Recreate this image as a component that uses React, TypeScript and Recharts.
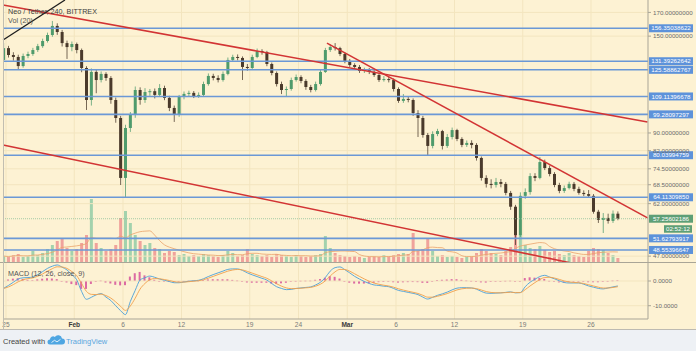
import React from 'react';
import { ComposedChart, Bar, Line, XAxis, YAxis, ReferenceLine } from 'recharts';

const FONT = '"Liberation Sans", Arial, Helvetica, sans-serif';

// ---------- data (12h candles, NEO/USDT) ----------
const firstOpen = 132.3;
const closes = [
  140.8, 135.8, 134.4, 128.1, 135.1, 136.5, 139.4, 142.3, 146.2, 150.9,
  158.3, 153.3, 144.6, 141.6, 143.9, 139.4, 126.8, 107.1, 124.2, 119.0,
  122.9, 120.3, 107.1, 97.4, 71.0, 92.4, 98.95, 112.9, 107.1, 111.7,
  112.2, 110.0, 114.1, 108.3, 102.7, 98.95, 108.85, 110.6, 111.2, 109.4,
  110.0, 116.5, 121.6, 120.3, 119.0, 122.9, 132.3, 134.4, 133.7, 127.5,
  126.8, 134.4, 138.7, 137.9, 129.5, 123.5, 116.5, 112.9, 113.5, 119.0,
  120.9, 118.4, 114.7, 112.9, 116.5, 124.2, 139.4, 141.6, 140.8, 136.5,
  131.6, 128.8, 127.5, 124.8, 125.5, 124.2, 122.2, 119.0, 119.6, 119.0,
  113.5, 106.6, 107.7, 107.1, 100.0, 97.4, 89.05, 84.05, 89.5, 90.9,
  84.05, 88.1, 91.4, 87.2, 84.5, 85.4, 84.5, 78.9, 71.0, 68.8,
  68.4, 69.5, 68.8, 65.6, 61.0, 52.5, 64.6, 65.9, 71.7, 71.0,
  77.2, 74.8, 72.5, 68.4, 66.3, 67.3, 68.8, 67.0, 65.6, 65.2,
  64.6, 59.4, 56.9, 57.5, 56.6, 58.8, 57.26,
];
const highs = [
  144.6, 142.5, 137.8, 136.0, 136.8, 138.2, 141.0, 144.0, 148.0, 152.8,
  162.5, 160.5, 155.0, 146.5, 145.8, 145.0, 140.5, 128.0, 126.5, 126.0,
  124.5, 124.0, 121.5, 108.5, 98.5, 94.0, 100.5, 115.0, 114.5, 114.0,
  113.5, 113.8, 116.5, 115.5, 109.5, 104.0, 110.0, 112.0, 112.5, 112.3,
  111.5, 118.0, 123.2, 123.0, 122.0, 124.5, 134.0, 136.0, 136.2, 134.8,
  129.5, 136.0, 140.5, 140.0, 138.8, 130.5, 124.5, 118.0, 115.0, 120.5,
  122.5, 122.0, 119.5, 116.0, 118.0, 125.5, 141.0, 143.5, 144.6, 141.8,
  137.5, 133.0, 130.0, 128.8, 127.0, 126.8, 125.5, 123.5, 121.5, 121.0,
  120.0, 114.5, 110.5, 109.0, 108.0, 101.5, 98.5, 90.0, 90.8, 92.0,
  91.5, 89.5, 92.6, 92.0, 88.0, 86.5, 86.6, 85.3, 79.5, 72.0,
  70.5, 71.0, 70.6, 69.5, 66.3, 61.6, 65.8, 67.2, 72.8, 72.8,
  79.3, 78.2, 75.8, 73.2, 69.2, 68.2, 69.6, 69.5, 67.8, 66.5,
  66.6, 65.2, 60.0, 59.0, 58.8, 59.8, 59.5,
];
const lows = [
  131.0, 134.0, 131.8, 125.5, 127.0, 133.5, 135.2, 138.0, 141.0, 145.0,
  149.5, 151.0, 142.0, 133.0, 138.5, 137.0, 124.0, 101.6, 104.0, 111.0,
  117.5, 118.5, 105.0, 95.0, 68.4, 63.9, 90.5, 97.5, 104.5, 105.5,
  109.5, 108.0, 109.0, 107.0, 101.0, 95.4, 98.0, 107.5, 109.0, 108.2,
  108.3, 109.2, 115.5, 118.8, 117.5, 118.0, 122.0, 131.0, 132.0, 119.0,
  125.0, 126.0, 133.5, 136.0, 128.0, 122.0, 115.0, 110.5, 109.4, 112.5,
  118.0, 117.0, 113.0, 111.5, 112.0, 115.5, 123.5, 138.0, 139.0, 135.0,
  130.0, 127.5, 126.0, 123.5, 123.5, 122.8, 121.0, 117.8, 118.0, 117.5,
  112.0, 105.5, 105.5, 105.8, 98.5, 88.1, 87.8, 80.1, 83.0, 88.5,
  82.5, 83.2, 87.0, 86.2, 83.5, 83.6, 83.0, 77.8, 70.0, 67.5,
  67.2, 67.5, 67.6, 64.8, 60.0, 49.85, 52.0, 63.6, 65.0, 69.8,
  70.5, 74.0, 71.6, 67.6, 65.5, 65.6, 66.8, 66.2, 65.0, 64.5,
  64.0, 58.8, 56.0, 53.1, 55.8, 56.0, 56.8,
];
const volumes = [
  7, 6, 8, 9, 6, 7, 12, 8, 10, 14,
  18, 22, 25, 15, 12, 14, 20, 28, 64, 20,
  15, 12, 14, 18, 45, 52, 40, 28, 22, 18,
  20, 15, 14, 10, 12, 11, 8, 9, 7, 8,
  7, 9, 8, 7, 6, 8, 12, 10, 7, 8,
  14, 9, 8, 7, 8, 6, 9, 8, 7, 6,
  8, 7, 6, 7, 8, 9, 27, 15, 10, 8,
  7, 6, 7, 6, 5, 6, 7, 6, 8, 7,
  8, 9, 10, 9, 30, 12, 14, 24, 12, 7,
  8, 6, 7, 6, 5, 6, 7, 10, 14, 12,
  10, 9, 8, 12, 16, 35, 28, 18, 15, 14,
  17, 13, 11, 12, 9, 8, 10, 8, 7, 6,
  12, 15, 14, 13, 10, 8, 5,
];
const macdValues = [
  -3.0, -1.8, -0.5, 0.8, 1.3, 1.4, 1.6, 2.6, 3.8, 5.1,
  6.0, 6.5, 5.6, 4.5, 2.6, 0.5, -4.2, -7.4, -6.6, -5.6,
  -5.1, -6.5, -7.9, -10.0, -12.0, -13.6, -8.3, -3.8, 0.4, 1.3,
  2.0, 1.5, 0.8, 0.3, -0.2, -0.7, -0.7, -0.4, -0.1, 0.1,
  0.3, 0.9, 1.8, 2.6, 3.3, 4.0, 4.7, 4.9, 4.9, 4.3,
  3.3, 2.5, 1.8, 1.1, 0.4, -1.0, -2.3, -3.0, -3.5, -3.4,
  -3.0, -2.8, -2.6, -2.4, -1.6, -0.5, 1.4, 4.0, 5.4, 5.7,
  4.6, 3.3, 1.9, 0.8, -0.2, -1.0, -1.6, -1.8, -2.1, -2.3,
  -3.0, -3.8, -4.2, -4.6, -5.0, -5.5, -6.5, -7.3, -6.6, -5.8,
  -5.2, -4.5, -3.6, -2.9, -2.7, -2.7, -2.8, -3.3, -4.2, -4.9,
  -5.0, -4.9, -4.8, -4.6, -4.4, -4.8, -4.7, -2.3, -0.5, 0.7,
  1.8, 2.3, 1.6, 0.9, 0.1, -0.6, -0.8, -0.8, -0.8, -1.3,
  -2.0, -2.5, -3.0, -3.2, -2.8, -2.4, -2.0,
];
// time: days since 25 Jan 00:00, one candle every 12h
const startDay = -0.25;
const stepDays = 0.5;
const dayTicks = [0, 7, 12, 18, 25, 30, 35, 40, 46, 53, 60];
const dayLabels = ['25', 'Feb', '6', '12', '19', '24', 'Mar', '6', '12', '19', '26'];
const priceTicks = [170, 150, 90, 82, 74.5, 68.5, 62, 47];
const macdTicks = [0, -10];
const levels = [156.35038622, 131.39262642, 125.58862767, 109.11396678, 99.28097297, 80.03994759, 64.1130985, 51.62793917, 48.55396647];
const lastPrice = 57.25602186;
const countdown = '02:52:12';
// trend lines: [day1, price1, day2, price2]
const redLines = [
  [-0.3, 176.8, 65.8, 95.4],
  [32.92, 144.6, 65.8, 57.5],
  [-0.3, 84.5, 57.85, 45.4],
];
const blackLine = [-0.3, 147.0, 6.05, 181.5];

const X_DOMAIN = [-0.3077, 65.846];
const PRICE_DOMAIN = [45.33, 181.5];
const VOL_DOMAIN = [0, 263];
const MACD_DOMAIN = [-15.38, 7.29];

// ---------- derived ----------
const candles = closes.map((c, i) => {
  const open = i === 0 ? firstOpen : closes[i - 1];
  return { d: startDay + i * stepDays, open, close: c, high: highs[i], low: lows[i], range: [lows[i], highs[i]], vol: volumes[i], up: c >= open };
});
candles.forEach((c: any, i) => {
  const from = Math.max(0, i - 6);
  const slice = volumes.slice(from, i + 1);
  c.volMA = slice.reduce((a, b) => a + b, 0) / slice.length;
});
const macdData: any[] = [];
let sig = macdValues[0];
macdValues.forEach((m, i) => {
  sig = i === 0 ? m : sig + 0.5 * (m - sig);
  macdData.push({ d: startDay + i * stepDays, macd: m, signal: sig, hist: m - sig });
});

// ---------- styles ----------
const BG = '#fdf2d3';
const GRID = '#f3e5bf';
const UP = '#4f9b6c';
const DOWN = '#4a3a2b';
const BLUE = '#6b98d6';
const BLUE_BOX = '#5d92da';
const GREEN_BOX = '#5e9f76';
const RED = '#d23434';
const AXIS = '#a9a597';

const Candle = (props: any) => {
  const { x, y, width, height, payload } = props;
  if (!payload || !isFinite(y) || !isFinite(height)) return null;
  const { open, close, high, low } = payload;
  const lh = Math.log(high);
  const ll = Math.log(low);
  const span = lh - ll || 1;
  const py = (p: number) => y + (height * (lh - Math.log(p))) / span;
  const cx = x + width / 2;
  const color = close >= open ? UP : DOWN;
  const top = py(Math.max(open, close));
  const bot = py(Math.min(open, close));
  return (
    <g>
      <line x1={cx} x2={cx} y1={y} y2={y + height} stroke={color} strokeOpacity={0.75} strokeWidth={1} />
      <rect x={x} y={top} width={width} height={Math.max(1, bot - top)} fill={color} />
    </g>
  );
};

const VolBar = (props: any) => {
  const { x, y, width, height, payload } = props;
  if (!payload || !isFinite(y)) return null;
  return <rect x={x} y={y} width={width} height={Math.max(0, height)} fill={payload.up ? '#a3d2ad' : '#f0a29b'} />;
};

const HistBar = (props: any) => {
  const { x, y, width, height } = props;
  if (!isFinite(y)) return null;
  const h = Math.abs(height);
  const yy = height < 0 ? y + height : y;
  return <rect x={x} y={yy} width={width} height={Math.max(0.8, h)} fill="#dc6aa2" />;
};

const LevelLabel = (props: any) => {
  const { viewBox, text, fill } = props;
  if (!viewBox) return null;
  const x = viewBox.x + viewBox.width + 1;
  const y = viewBox.y;
  return (
    <g>
      <rect x={x} y={y - 4} width={44} height={8} fill={fill} />
      <text x={x + 22} y={y + 2.2} textAnchor="middle" fontSize={6.2} fill="#ffffff" fontFamily={FONT}>{text}</text>
    </g>
  );
};

const LastLabel = (props: any) => {
  const { viewBox } = props;
  if (!viewBox) return null;
  const x = viewBox.x + viewBox.width + 1;
  const y = viewBox.y;
  return (
    <g>
      <rect x={x} y={y - 4} width={44} height={8} fill={GREEN_BOX} />
      <text x={x + 22} y={y + 2.2} textAnchor="middle" fontSize={6.2} fill="#ffffff" fontFamily={FONT}>{lastPrice.toFixed(8)}</text>
      <rect x={x + 15} y={y + 6.5} width={28} height={7.5} fill={GREEN_BOX} />
      <text x={x + 29} y={y + 12.3} textAnchor="middle" fontSize={6.2} fill="#ffffff" fontFamily={FONT}>{countdown}</text>
    </g>
  );
};

const TimeTick = (props: any) => {
  const { x, y, payload } = props;
  const idx = dayTicks.indexOf(payload.value);
  const lbl = idx >= 0 ? dayLabels[idx] : '';
  const bold = lbl === 'Feb' || lbl === 'Mar';
  return (
    <text x={x} y={y + 8} textAnchor="middle" fontSize={6.6} fontFamily={FONT} fill={bold ? '#3a3a3a' : '#7a7a7a'} fontWeight={bold ? 700 : 400}>{lbl}</text>
  );
};

const axisTick = { fontSize: 6.2, fill: '#6b6b6b', fontFamily: FONT };

export default function App() {
  return (
    <div style={{ position: 'absolute', left: 0, top: 0, width: 696, height: 351, background: '#eef1f5', fontFamily: FONT, overflow: 'hidden' }}>
      <style>{'body{margin:0}'}</style>
      <div style={{ position: 'absolute', left: 0, top: 0, width: 696, height: 329, background: BG }} />

      {/* layer 1: grid + volume */}
      <div style={{ position: 'absolute', left: 0, top: 0 }}>
        <ComposedChart width={696} height={263} data={candles} margin={{ top: 0, right: 48, bottom: 0, left: 3 }}>
          <XAxis dataKey="d" type="number" domain={X_DOMAIN} allowDataOverflow hide />
          <YAxis yAxisId="price" scale="log" domain={PRICE_DOMAIN} allowDataOverflow hide />
          <YAxis yAxisId="vol" domain={VOL_DOMAIN} allowDataOverflow hide />
          {dayTicks.map((t) => (
            <ReferenceLine key={'vx' + t} x={t} yAxisId="price" stroke={GRID} strokeWidth={1} />
          ))}
          {priceTicks.map((t) => (
            <ReferenceLine key={'hy' + t} y={t} yAxisId="price" stroke={GRID} strokeWidth={1} />
          ))}
          <Bar yAxisId="vol" dataKey="vol" barSize={3} shape={<VolBar />} isAnimationActive={false} />
          <Line yAxisId="vol" dataKey="volMA" type="monotone" stroke="#eaa26a" strokeWidth={0.8} dot={false} isAnimationActive={false} />
        </ComposedChart>
      </div>

      {/* layer 2: price */}
      <div style={{ position: 'absolute', left: 0, top: 0 }}>
        <ComposedChart width={696} height={263} data={candles} margin={{ top: 0, right: 0, bottom: 0, left: 3 }}>
          <XAxis dataKey="d" type="number" domain={X_DOMAIN} allowDataOverflow hide />
          <YAxis
            yAxisId="price"
            orientation="right"
            width={48}
            scale="log"
            domain={PRICE_DOMAIN}
            allowDataOverflow
            ticks={priceTicks}
            interval={0}
            tickFormatter={(v: number) => v.toFixed(8)}
            tick={axisTick}
            tickSize={3}
            tickMargin={2}
            stroke={AXIS}
            axisLine={{ stroke: AXIS }}
            tickLine={{ stroke: AXIS }}
          />
          <ReferenceLine y={lastPrice} yAxisId="price" stroke="#8fc29b" strokeWidth={0.8} strokeDasharray="1 1" label={<LastLabel />} />
          {levels.map((lv) => (
            <ReferenceLine key={'lv' + lv} y={lv} yAxisId="price" stroke={BLUE} strokeWidth={1.6} label={<LevelLabel text={lv.toFixed(8)} fill={BLUE_BOX} />} />
          ))}
          <Bar yAxisId="price" dataKey="range" barSize={3} shape={<Candle />} isAnimationActive={false} />
          {redLines.map((l, i) => (
            <ReferenceLine
              key={'rl' + i}
              yAxisId="price"
              ifOverflow="visible"
              segment={[{ x: l[0], y: l[1] }, { x: l[2], y: l[3] }]}
              stroke={RED}
              strokeWidth={1.6}
            />
          ))}
          <ReferenceLine
            yAxisId="price"
            ifOverflow="visible"
            segment={[{ x: blackLine[0], y: blackLine[1] }, { x: blackLine[2], y: blackLine[3] }]}
            stroke="#1e1e1e"
            strokeWidth={1.3}
          />
        </ComposedChart>
      </div>

      {/* layer 3: MACD + time axis */}
      <div style={{ position: 'absolute', left: 0, top: 263 }}>
        <ComposedChart width={696} height={66} data={macdData} margin={{ top: 0, right: 0, bottom: 0, left: 3 }}>
          <XAxis
            dataKey="d"
            type="number"
            domain={X_DOMAIN}
            allowDataOverflow
            ticks={dayTicks}
            interval={0}
            height={10}
            tickSize={0}
            tickMargin={0}
            tick={<TimeTick />}
            axisLine={{ stroke: AXIS }}
            tickLine={false}
          />
          <YAxis
            orientation="right"
            width={48}
            domain={MACD_DOMAIN}
            allowDataOverflow
            ticks={macdTicks}
            interval={0}
            tickFormatter={(v: number) => v.toFixed(4)}
            tick={axisTick}
            tickSize={3}
            tickMargin={2}
            axisLine={{ stroke: AXIS }}
            tickLine={{ stroke: AXIS }}
          />
          {dayTicks.map((t) => (
            <ReferenceLine key={'mx' + t} x={t} stroke={GRID} strokeWidth={1} />
          ))}
          {macdTicks.map((t) => (
            <ReferenceLine key={'my' + t} y={t} stroke={GRID} strokeWidth={1} />
          ))}
          <Bar dataKey="hist" barSize={2} shape={<HistBar />} isAnimationActive={false} />
          <Line dataKey="macd" type="monotone" stroke="#4a9fd8" strokeWidth={0.9} dot={false} isAnimationActive={false} />
          <Line dataKey="signal" type="monotone" stroke="#f0a04c" strokeWidth={0.9} dot={false} isAnimationActive={false} />
        </ComposedChart>
      </div>

      {/* frame lines */}
      <div style={{ position: 'absolute', left: 0, top: 262, width: 696, height: 1, background: AXIS }} />
      <div style={{ position: 'absolute', left: 0, top: 329, width: 696, height: 1, background: '#bdbab2' }} />
      <div style={{ position: 'absolute', left: 3, top: 0, width: 1, height: 329, background: '#c2beb0' }} />

      {/* texts */}
      <svg width={696} height={351} style={{ position: 'absolute', left: 0, top: 0, pointerEvents: 'none' }}>
        <text x={8} y={13.5} fontSize={7.2} fill="#3c3c3c" fontFamily={FONT}>Neo / Tether, 240, BITTREX</text>
        <text x={8} y={22.5} fontSize={7.2} fill="#555555" fontFamily={FONT}>Vol (20)</text>
        <text x={8} y={275.5} fontSize={7.2} fill="#555555" fontFamily={FONT}>MACD (12, 26, close, 9)</text>
        <text x={3} y={343.5} fontSize={7.5} fill="#444444" fontFamily={FONT}>Created with</text>
        <path d="M50,344.5 h12 a3,3 0 0 0 0,-6 a4,4 0 0 0 -7.2,-1.6 a3,3 0 0 0 -4.8,2.6 a2.5,2.5 0 0 0 0,5 z" fill="#4ea6e2" />
        <path d="M51.5,342.5 l3,-2.2 l2.5,1.6 l3.5,-2.6" stroke="#ffffff" strokeWidth={0.8} fill="none" />
        <text x={66} y={343.5} fontSize={7.5} fill="#5aa6dd" fontFamily={FONT}>TradingView</text>
      </svg>
    </div>
  );
}
